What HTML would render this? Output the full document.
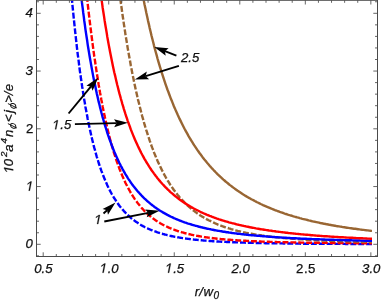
<!DOCTYPE html><html><head><meta charset="utf-8"><style>html,body{margin:0;padding:0;background:#fff;width:382px;height:300px;overflow:hidden}</style></head><body><svg width="382" height="300" viewBox="0 0 382 300" style="position:absolute;left:0;top:0;will-change:transform"><rect width="382" height="300" fill="#fff"/><defs><clipPath id="c"><rect x="36.50" y="0.60" width="341.00" height="255.90"/></clipPath></defs><g clip-path="url(#c)" fill="none" stroke-width="2.4" stroke-linejoin="round"><path d="M64.3 -102.2 L64.7 -95.6 L65.1 -89.1 L65.5 -82.6 L65.9 -76.3 L66.4 -70.0 L66.8 -63.9 L67.3 -57.8 L67.7 -51.8 L68.1 -45.8 L68.6 -40.0 L69.1 -34.3 L69.5 -28.6 L70.0 -23.0 L70.4 -17.5 L70.9 -12.1 L71.4 -6.8 L71.9 -1.6 L72.3 3.6 L72.8 8.7 L73.3 13.6 L73.8 18.6 L74.3 23.4 L74.8 28.1 L75.3 32.8 L75.8 37.3 L76.3 41.8 L76.8 46.3 L77.3 50.6 L77.8 54.8 L78.4 59.0 L78.9 63.1 L79.4 67.2 L79.9 71.1 L80.5 75.0 L81.0 78.8 L81.6 82.5 L82.1 86.2 L82.7 89.8 L83.2 93.3 L83.8 96.7 L84.3 100.1 L84.9 103.4 L85.4 106.7 L86.0 109.8 L86.6 112.9 L87.2 116.0 L87.7 119.0 L88.3 121.9 L88.9 124.8 L89.5 127.6 L90.1 130.3 L90.7 133.0 L91.3 135.6 L91.9 138.2 L92.5 140.7 L93.1 143.2 L93.7 145.6 L94.3 147.9 L95.0 150.2 L95.6 152.5 L96.2 154.7 L96.8 156.8 L97.5 158.9 L98.1 161.0 L98.7 163.0 L99.4 165.0 L100.0 166.9 L100.7 168.8 L101.3 170.6 L102.0 172.4 L102.6 174.1 L103.3 175.8 L104.0 177.5 L104.6 179.1 L105.3 180.7 L106.0 182.3 L106.7 183.8 L107.3 185.3 L108.0 186.7 L108.7 188.1 L109.4 189.5 L110.1 190.9 L110.8 192.2 L111.5 193.5 L112.2 194.7 L112.9 195.9 L113.6 197.1 L114.3 198.3 L115.1 199.4 L115.8 200.5 L116.5 201.6 L117.2 202.7 L118.0 203.7 L118.7 204.7 L119.4 205.7 L120.2 206.7 L120.9 207.6 L121.7 208.5 L122.4 209.4 L123.2 210.2 L123.9 211.1 L124.7 211.9 L125.4 212.7 L126.2 213.5 L127.0 214.3 L127.7 215.0 L128.5 215.7 L129.3 216.4 L130.1 217.1 L130.8 217.8 L131.6 218.5 L132.4 219.1 L133.2 219.7 L134.0 220.3 L134.8 220.9 L135.6 221.5 L136.4 222.1 L137.2 222.6 L138.0 223.1 L138.9 223.7 L139.7 224.2 L140.5 224.7 L141.3 225.2 L142.1 225.6 L143.0 226.1 L143.8 226.5 L144.6 227.0 L145.5 227.4 L146.3 227.8 L147.2 228.2 L148.0 228.6 L148.9 229.0 L149.7 229.4 L150.6 229.7 L151.4 230.1 L152.3 230.4 L153.2 230.8 L154.0 231.1 L154.9 231.4 L155.8 231.7 L156.7 232.0 L157.5 232.3 L158.4 232.6 L159.3 232.9 L160.2 233.2 L161.1 233.5 L162.0 233.7 L162.9 234.0 L163.8 234.2 L164.7 234.5 L165.6 234.7 L166.5 234.9 L167.4 235.2 L168.4 235.4 L169.3 235.6 L170.2 235.8 L171.1 236.0 L172.1 236.2 L173.0 236.4 L173.9 236.6 L174.9 236.8 L175.8 236.9 L176.8 237.1 L177.7 237.3 L178.7 237.4 L179.6 237.6 L180.6 237.8 L181.5 237.9 L182.5 238.1 L183.5 238.2 L184.4 238.4 L185.4 238.5 L186.4 238.6 L187.4 238.8 L188.3 238.9 L189.3 239.0 L190.3 239.1 L191.3 239.3 L192.3 239.4 L193.3 239.5 L194.3 239.6 L195.3 239.7 L196.3 239.8 L197.3 239.9 L198.3 240.0 L199.3 240.1 L200.3 240.2 L201.4 240.3 L202.4 240.4 L203.4 240.5 L204.4 240.6 L205.5 240.6 L206.5 240.7 L207.5 240.8 L208.6 240.9 L209.6 241.0 L210.7 241.0 L211.7 241.1 L212.8 241.2 L213.8 241.3 L214.9 241.3 L215.9 241.4 L217.0 241.5 L218.0 241.5 L219.1 241.6 L220.2 241.6 L221.3 241.7 L222.3 241.8 L223.4 241.8 L224.5 241.9 L225.6 241.9 L226.7 242.0 L227.8 242.0 L228.9 242.1 L230.0 242.1 L231.1 242.2 L232.2 242.2 L233.3 242.3 L234.4 242.3 L235.5 242.3 L236.6 242.4 L237.7 242.4 L238.8 242.5 L240.0 242.5 L241.1 242.5 L242.2 242.6 L243.3 242.6 L244.5 242.6 L245.6 242.7 L246.8 242.7 L247.9 242.7 L249.0 242.8 L250.2 242.8 L251.3 242.8 L252.5 242.9 L253.7 242.9 L254.8 242.9 L256.0 243.0 L257.1 243.0 L258.3 243.0 L259.5 243.0 L260.7 243.1 L261.8 243.1 L263.0 243.1 L264.2 243.1 L265.4 243.2 L266.6 243.2 L267.8 243.2 L269.0 243.2 L270.2 243.2 L271.4 243.3 L272.6 243.3 L273.8 243.3 L275.0 243.3 L276.2 243.3 L277.4 243.4 L278.6 243.4 L279.8 243.4 L281.1 243.4 L282.3 243.4 L283.5 243.5 L284.7 243.5 L286.0 243.5 L287.2 243.5 L288.4 243.5 L289.7 243.5 L290.9 243.5 L292.2 243.6 L293.4 243.6 L294.7 243.6 L295.9 243.6 L297.2 243.6 L298.5 243.6 L299.7 243.6 L301.0 243.7 L302.3 243.7 L303.5 243.7 L304.8 243.7 L306.1 243.7 L307.4 243.7 L308.6 243.7 L309.9 243.7 L311.2 243.7 L312.5 243.8 L313.8 243.8 L315.1 243.8 L316.4 243.8 L317.7 243.8 L319.0 243.8 L320.3 243.8 L321.6 243.8 L322.9 243.8 L324.2 243.8 L325.6 243.8 L326.9 243.9 L328.2 243.9 L329.5 243.9 L330.9 243.9 L332.2 243.9 L333.5 243.9 L334.9 243.9 L336.2 243.9 L337.6 243.9 L338.9 243.9 L340.3 243.9 L341.6 243.9 L343.0 243.9 L344.3 243.9 L345.7 244.0 L347.0 244.0 L348.4 244.0 L349.8 244.0 L351.1 244.0 L352.5 244.0 L353.9 244.0 L355.3 244.0 L356.7 244.0 L358.0 244.0 L359.4 244.0 L360.8 244.0 L362.2 244.0 L363.6 244.0 L365.0 244.0 L366.4 244.0 L367.8 244.0 L369.2 244.0 L370.6 244.0 L372.0 244.0" stroke="#0000ff" stroke-dasharray="5.910 1.975" stroke-dashoffset="3.09"/><path d="M78.4 -96.8 L78.9 -90.2 L79.4 -83.8 L79.9 -77.4 L80.5 -71.1 L81.0 -64.9 L81.6 -58.7 L82.1 -52.6 L82.7 -46.6 L83.2 -40.7 L83.8 -34.8 L84.3 -29.1 L84.9 -23.4 L85.4 -17.8 L86.0 -12.3 L86.6 -6.8 L87.2 -1.4 L87.7 3.8 L88.3 9.0 L88.9 14.1 L89.5 19.2 L90.1 24.1 L90.7 29.0 L91.3 33.8 L91.9 38.5 L92.5 43.1 L93.1 47.6 L93.7 52.1 L94.3 56.5 L95.0 60.8 L95.6 65.0 L96.2 69.1 L96.8 73.2 L97.5 77.2 L98.1 81.1 L98.7 84.9 L99.4 88.7 L100.0 92.4 L100.7 96.0 L101.3 99.5 L102.0 103.0 L102.6 106.3 L103.3 109.7 L104.0 112.9 L104.6 116.1 L105.3 119.2 L106.0 122.2 L106.7 125.2 L107.3 128.1 L108.0 131.0 L108.7 133.8 L109.4 136.5 L110.1 139.2 L110.8 141.8 L111.5 144.3 L112.2 146.8 L112.9 149.2 L113.6 151.6 L114.3 153.9 L115.1 156.2 L115.8 158.4 L116.5 160.5 L117.2 162.6 L118.0 164.7 L118.7 166.7 L119.4 168.7 L120.2 170.6 L120.9 172.4 L121.7 174.2 L122.4 176.0 L123.2 177.8 L123.9 179.4 L124.7 181.1 L125.4 182.7 L126.2 184.3 L127.0 185.8 L127.7 187.3 L128.5 188.7 L129.3 190.1 L130.1 191.5 L130.8 192.9 L131.6 194.2 L132.4 195.4 L133.2 196.7 L134.0 197.9 L134.8 199.1 L135.6 200.2 L136.4 201.3 L137.2 202.4 L138.0 203.5 L138.9 204.5 L139.7 205.5 L140.5 206.5 L141.3 207.5 L142.1 208.4 L143.0 209.3 L143.8 210.2 L144.6 211.1 L145.5 211.9 L146.3 212.7 L147.2 213.5 L148.0 214.3 L148.9 215.0 L149.7 215.8 L150.6 216.5 L151.4 217.2 L152.3 217.8 L153.2 218.5 L154.0 219.1 L154.9 219.8 L155.8 220.4 L156.7 221.0 L157.5 221.5 L158.4 222.1 L159.3 222.6 L160.2 223.2 L161.1 223.7 L162.0 224.2 L162.9 224.7 L163.8 225.2 L164.7 225.6 L165.6 226.1 L166.5 226.5 L167.4 226.9 L168.4 227.4 L169.3 227.8 L170.2 228.2 L171.1 228.5 L172.1 228.9 L173.0 229.3 L173.9 229.6 L174.9 230.0 L175.8 230.3 L176.8 230.7 L177.7 231.0 L178.7 231.3 L179.6 231.6 L180.6 231.9 L181.5 232.2 L182.5 232.4 L183.5 232.7 L184.4 233.0 L185.4 233.2 L186.4 233.5 L187.4 233.7 L188.3 234.0 L189.3 234.2 L190.3 234.4 L191.3 234.7 L192.3 234.9 L193.3 235.1 L194.3 235.3 L195.3 235.5 L196.3 235.7 L197.3 235.9 L198.3 236.0 L199.3 236.2 L200.3 236.4 L201.4 236.6 L202.4 236.7 L203.4 236.9 L204.4 237.1 L205.5 237.2 L206.5 237.4 L207.5 237.5 L208.6 237.6 L209.6 237.8 L210.7 237.9 L211.7 238.0 L212.8 238.2 L213.8 238.3 L214.9 238.4 L215.9 238.5 L217.0 238.7 L218.0 238.8 L219.1 238.9 L220.2 239.0 L221.3 239.1 L222.3 239.2 L223.4 239.3 L224.5 239.4 L225.6 239.5 L226.7 239.6 L227.8 239.7 L228.9 239.8 L230.0 239.8 L231.1 239.9 L232.2 240.0 L233.3 240.1 L234.4 240.2 L235.5 240.2 L236.6 240.3 L237.7 240.4 L238.8 240.5 L240.0 240.5 L241.1 240.6 L242.2 240.7 L243.3 240.7 L244.5 240.8 L245.6 240.8 L246.8 240.9 L247.9 241.0 L249.0 241.0 L250.2 241.1 L251.3 241.1 L252.5 241.2 L253.7 241.2 L254.8 241.3 L256.0 241.3 L257.1 241.4 L258.3 241.4 L259.5 241.5 L260.7 241.5 L261.8 241.6 L263.0 241.6 L264.2 241.7 L265.4 241.7 L266.6 241.7 L267.8 241.8 L269.0 241.8 L270.2 241.9 L271.4 241.9 L272.6 241.9 L273.8 242.0 L275.0 242.0 L276.2 242.0 L277.4 242.1 L278.6 242.1 L279.8 242.1 L281.1 242.2 L282.3 242.2 L283.5 242.2 L284.7 242.2 L286.0 242.3 L287.2 242.3 L288.4 242.3 L289.7 242.4 L290.9 242.4 L292.2 242.4 L293.4 242.4 L294.7 242.5 L295.9 242.5 L297.2 242.5 L298.5 242.5 L299.7 242.5 L301.0 242.6 L302.3 242.6 L303.5 242.6 L304.8 242.6 L306.1 242.6 L307.4 242.7 L308.6 242.7 L309.9 242.7 L311.2 242.7 L312.5 242.7 L313.8 242.8 L315.1 242.8 L316.4 242.8 L317.7 242.8 L319.0 242.8 L320.3 242.8 L321.6 242.9 L322.9 242.9 L324.2 242.9 L325.6 242.9 L326.9 242.9 L328.2 242.9 L329.5 242.9 L330.9 243.0 L332.2 243.0 L333.5 243.0 L334.9 243.0 L336.2 243.0 L337.6 243.0 L338.9 243.0 L340.3 243.0 L341.6 243.0 L343.0 243.1 L344.3 243.1 L345.7 243.1 L347.0 243.1 L348.4 243.1 L349.8 243.1 L351.1 243.1 L352.5 243.1 L353.9 243.1 L355.3 243.1 L356.7 243.2 L358.0 243.2 L359.4 243.2 L360.8 243.2 L362.2 243.2 L363.6 243.2 L365.0 243.2 L366.4 243.2 L367.8 243.2 L369.2 243.2 L370.6 243.2 L372.0 243.2" stroke="#ff0000" stroke-dasharray="5.910 1.975" stroke-dashoffset="1.39"/><path d="M109.4 -98.0 L110.1 -90.8 L110.8 -83.7 L111.5 -76.8 L112.2 -69.9 L112.9 -63.2 L113.6 -56.6 L114.3 -50.1 L115.1 -43.7 L115.8 -37.4 L116.5 -31.3 L117.2 -25.2 L118.0 -19.3 L118.7 -13.5 L119.4 -7.8 L120.2 -2.2 L120.9 3.3 L121.7 8.7 L122.4 14.0 L123.2 19.2 L123.9 24.2 L124.7 29.2 L125.4 34.1 L126.2 38.9 L127.0 43.5 L127.7 48.1 L128.5 52.6 L129.3 57.0 L130.1 61.3 L130.8 65.5 L131.6 69.6 L132.4 73.7 L133.2 77.6 L134.0 81.5 L134.8 85.3 L135.6 89.0 L136.4 92.6 L137.2 96.1 L138.0 99.6 L138.9 103.0 L139.7 106.3 L140.5 109.5 L141.3 112.7 L142.1 115.8 L143.0 118.8 L143.8 121.8 L144.6 124.7 L145.5 127.5 L146.3 130.2 L147.2 132.9 L148.0 135.6 L148.9 138.1 L149.7 140.7 L150.6 143.1 L151.4 145.5 L152.3 147.9 L153.2 150.1 L154.0 152.4 L154.9 154.6 L155.8 156.7 L156.7 158.8 L157.5 160.8 L158.4 162.8 L159.3 164.7 L160.2 166.6 L161.1 168.4 L162.0 170.2 L162.9 172.0 L163.8 173.7 L164.7 175.4 L165.6 177.0 L166.5 178.6 L167.4 180.1 L168.4 181.7 L169.3 183.1 L170.2 184.6 L171.1 186.0 L172.1 187.4 L173.0 188.7 L173.9 190.0 L174.9 191.3 L175.8 192.5 L176.8 193.7 L177.7 194.9 L178.7 196.1 L179.6 197.2 L180.6 198.3 L181.5 199.4 L182.5 200.4 L183.5 201.4 L184.4 202.4 L185.4 203.4 L186.4 204.4 L187.4 205.3 L188.3 206.2 L189.3 207.1 L190.3 207.9 L191.3 208.8 L192.3 209.6 L193.3 210.4 L194.3 211.1 L195.3 211.9 L196.3 212.6 L197.3 213.4 L198.3 214.1 L199.3 214.7 L200.3 215.4 L201.4 216.1 L202.4 216.7 L203.4 217.3 L204.4 217.9 L205.5 218.5 L206.5 219.1 L207.5 219.6 L208.6 220.2 L209.6 220.7 L210.7 221.2 L211.7 221.8 L212.8 222.2 L213.8 222.7 L214.9 223.2 L215.9 223.7 L217.0 224.1 L218.0 224.6 L219.1 225.0 L220.2 225.4 L221.3 225.8 L222.3 226.2 L223.4 226.6 L224.5 227.0 L225.6 227.3 L226.7 227.7 L227.8 228.0 L228.9 228.4 L230.0 228.7 L231.1 229.1 L232.2 229.4 L233.3 229.7 L234.4 230.0 L235.5 230.3 L236.6 230.6 L237.7 230.9 L238.8 231.1 L240.0 231.4 L241.1 231.7 L242.2 231.9 L243.3 232.2 L244.5 232.4 L245.6 232.7 L246.8 232.9 L247.9 233.1 L249.0 233.3 L250.2 233.6 L251.3 233.8 L252.5 234.0 L253.7 234.2 L254.8 234.4 L256.0 234.6 L257.1 234.8 L258.3 234.9 L259.5 235.1 L260.7 235.3 L261.8 235.5 L263.0 235.6 L264.2 235.8 L265.4 236.0 L266.6 236.1 L267.8 236.3 L269.0 236.4 L270.2 236.6 L271.4 236.7 L272.6 236.9 L273.8 237.0 L275.0 237.1 L276.2 237.3 L277.4 237.4 L278.6 237.5 L279.8 237.6 L281.1 237.7 L282.3 237.9 L283.5 238.0 L284.7 238.1 L286.0 238.2 L287.2 238.3 L288.4 238.4 L289.7 238.5 L290.9 238.6 L292.2 238.7 L293.4 238.8 L294.7 238.9 L295.9 239.0 L297.2 239.1 L298.5 239.2 L299.7 239.2 L301.0 239.3 L302.3 239.4 L303.5 239.5 L304.8 239.6 L306.1 239.7 L307.4 239.7 L308.6 239.8 L309.9 239.9 L311.2 239.9 L312.5 240.0 L313.8 240.1 L315.1 240.1 L316.4 240.2 L317.7 240.3 L319.0 240.3 L320.3 240.4 L321.6 240.5 L322.9 240.5 L324.2 240.6 L325.6 240.6 L326.9 240.7 L328.2 240.7 L329.5 240.8 L330.9 240.8 L332.2 240.9 L333.5 240.9 L334.9 241.0 L336.2 241.0 L337.6 241.1 L338.9 241.1 L340.3 241.2 L341.6 241.2 L343.0 241.3 L344.3 241.3 L345.7 241.3 L347.0 241.4 L348.4 241.4 L349.8 241.5 L351.1 241.5 L352.5 241.5 L353.9 241.6 L355.3 241.6 L356.7 241.6 L358.0 241.7 L359.4 241.7 L360.8 241.7 L362.2 241.8 L363.6 241.8 L365.0 241.8 L366.4 241.9 L367.8 241.9 L369.2 241.9 L370.6 242.0 L372.0 242.0" stroke="#996633" stroke-dasharray="5.910 1.975" stroke-dashoffset="5.72"/><path d="M71.9 -100.8 L72.3 -94.8 L72.8 -88.9 L73.3 -83.0 L73.8 -77.2 L74.3 -71.6 L74.8 -66.0 L75.3 -60.5 L75.8 -55.0 L76.3 -49.7 L76.8 -44.4 L77.3 -39.2 L77.8 -34.1 L78.4 -29.1 L78.9 -24.2 L79.4 -19.3 L79.9 -14.5 L80.5 -9.8 L81.0 -5.2 L81.6 -0.7 L82.1 3.8 L82.7 8.2 L83.2 12.5 L83.8 16.8 L84.3 21.0 L84.9 25.1 L85.4 29.1 L86.0 33.1 L86.6 37.0 L87.2 40.8 L87.7 44.6 L88.3 48.3 L88.9 51.9 L89.5 55.5 L90.1 59.0 L90.7 62.4 L91.3 65.8 L91.9 69.1 L92.5 72.4 L93.1 75.6 L93.7 78.7 L94.3 81.8 L95.0 84.8 L95.6 87.8 L96.2 90.7 L96.8 93.6 L97.5 96.4 L98.1 99.2 L98.7 101.9 L99.4 104.5 L100.0 107.1 L100.7 109.7 L101.3 112.2 L102.0 114.7 L102.6 117.1 L103.3 119.5 L104.0 121.8 L104.6 124.1 L105.3 126.3 L106.0 128.5 L106.7 130.7 L107.3 132.8 L108.0 134.8 L108.7 136.9 L109.4 138.9 L110.1 140.8 L110.8 142.7 L111.5 144.6 L112.2 146.5 L112.9 148.3 L113.6 150.0 L114.3 151.8 L115.1 153.5 L115.8 155.2 L116.5 156.8 L117.2 158.4 L118.0 160.0 L118.7 161.5 L119.4 163.0 L120.2 164.5 L120.9 166.0 L121.7 167.4 L122.4 168.8 L123.2 170.2 L123.9 171.5 L124.7 172.8 L125.4 174.1 L126.2 175.4 L127.0 176.7 L127.7 177.9 L128.5 179.1 L129.3 180.2 L130.1 181.4 L130.8 182.5 L131.6 183.6 L132.4 184.7 L133.2 185.8 L134.0 186.8 L134.8 187.8 L135.6 188.8 L136.4 189.8 L137.2 190.8 L138.0 191.7 L138.9 192.6 L139.7 193.6 L140.5 194.4 L141.3 195.3 L142.1 196.2 L143.0 197.0 L143.8 197.8 L144.6 198.6 L145.5 199.4 L146.3 200.2 L147.2 201.0 L148.0 201.7 L148.9 202.4 L149.7 203.1 L150.6 203.9 L151.4 204.5 L152.3 205.2 L153.2 205.9 L154.0 206.5 L154.9 207.2 L155.8 207.8 L156.7 208.4 L157.5 209.0 L158.4 209.6 L159.3 210.2 L160.2 210.7 L161.1 211.3 L162.0 211.8 L162.9 212.4 L163.8 212.9 L164.7 213.4 L165.6 213.9 L166.5 214.4 L167.4 214.9 L168.4 215.4 L169.3 215.9 L170.2 216.3 L171.1 216.8 L172.1 217.2 L173.0 217.6 L173.9 218.1 L174.9 218.5 L175.8 218.9 L176.8 219.3 L177.7 219.7 L178.7 220.1 L179.6 220.5 L180.6 220.8 L181.5 221.2 L182.5 221.6 L183.5 221.9 L184.4 222.3 L185.4 222.6 L186.4 222.9 L187.4 223.3 L188.3 223.6 L189.3 223.9 L190.3 224.2 L191.3 224.5 L192.3 224.8 L193.3 225.1 L194.3 225.4 L195.3 225.7 L196.3 225.9 L197.3 226.2 L198.3 226.5 L199.3 226.8 L200.3 227.0 L201.4 227.3 L202.4 227.5 L203.4 227.8 L204.4 228.0 L205.5 228.2 L206.5 228.5 L207.5 228.7 L208.6 228.9 L209.6 229.1 L210.7 229.3 L211.7 229.6 L212.8 229.8 L213.8 230.0 L214.9 230.2 L215.9 230.4 L217.0 230.6 L218.0 230.8 L219.1 230.9 L220.2 231.1 L221.3 231.3 L222.3 231.5 L223.4 231.7 L224.5 231.8 L225.6 232.0 L226.7 232.2 L227.8 232.3 L228.9 232.5 L230.0 232.6 L231.1 232.8 L232.2 233.0 L233.3 233.1 L234.4 233.3 L235.5 233.4 L236.6 233.5 L237.7 233.7 L238.8 233.8 L240.0 233.9 L241.1 234.1 L242.2 234.2 L243.3 234.3 L244.5 234.5 L245.6 234.6 L246.8 234.7 L247.9 234.8 L249.0 235.0 L250.2 235.1 L251.3 235.2 L252.5 235.3 L253.7 235.4 L254.8 235.5 L256.0 235.6 L257.1 235.7 L258.3 235.8 L259.5 235.9 L260.7 236.0 L261.8 236.1 L263.0 236.2 L264.2 236.3 L265.4 236.4 L266.6 236.5 L267.8 236.6 L269.0 236.7 L270.2 236.8 L271.4 236.9 L272.6 237.0 L273.8 237.0 L275.0 237.1 L276.2 237.2 L277.4 237.3 L278.6 237.4 L279.8 237.4 L281.1 237.5 L282.3 237.6 L283.5 237.7 L284.7 237.7 L286.0 237.8 L287.2 237.9 L288.4 238.0 L289.7 238.0 L290.9 238.1 L292.2 238.2 L293.4 238.2 L294.7 238.3 L295.9 238.3 L297.2 238.4 L298.5 238.5 L299.7 238.5 L301.0 238.6 L302.3 238.7 L303.5 238.7 L304.8 238.8 L306.1 238.8 L307.4 238.9 L308.6 238.9 L309.9 239.0 L311.2 239.0 L312.5 239.1 L313.8 239.1 L315.1 239.2 L316.4 239.3 L317.7 239.3 L319.0 239.3 L320.3 239.4 L321.6 239.4 L322.9 239.5 L324.2 239.5 L325.6 239.6 L326.9 239.6 L328.2 239.7 L329.5 239.7 L330.9 239.8 L332.2 239.8 L333.5 239.8 L334.9 239.9 L336.2 239.9 L337.6 240.0 L338.9 240.0 L340.3 240.0 L341.6 240.1 L343.0 240.1 L344.3 240.2 L345.7 240.2 L347.0 240.2 L348.4 240.3 L349.8 240.3 L351.1 240.3 L352.5 240.4 L353.9 240.4 L355.3 240.4 L356.7 240.5 L358.0 240.5 L359.4 240.5 L360.8 240.6 L362.2 240.6 L363.6 240.6 L365.0 240.7 L366.4 240.7 L367.8 240.7 L369.2 240.7 L370.6 240.8 L372.0 240.8" stroke="#0000ff"/><path d="M90.7 -98.3 L91.3 -91.6 L91.9 -85.1 L92.5 -78.8 L93.1 -72.5 L93.7 -66.4 L94.3 -60.4 L95.0 -54.6 L95.6 -48.8 L96.2 -43.2 L96.8 -37.7 L97.5 -32.3 L98.1 -27.0 L98.7 -21.8 L99.4 -16.7 L100.0 -11.7 L100.7 -6.8 L101.3 -2.1 L102.0 2.6 L102.6 7.2 L103.3 11.7 L104.0 16.1 L104.6 20.4 L105.3 24.7 L106.0 28.8 L106.7 32.9 L107.3 36.9 L108.0 40.7 L108.7 44.6 L109.4 48.3 L110.1 52.0 L110.8 55.6 L111.5 59.1 L112.2 62.5 L112.9 65.9 L113.6 69.2 L114.3 72.5 L115.1 75.6 L115.8 78.7 L116.5 81.8 L117.2 84.8 L118.0 87.7 L118.7 90.6 L119.4 93.4 L120.2 96.1 L120.9 98.8 L121.7 101.5 L122.4 104.1 L123.2 106.6 L123.9 109.1 L124.7 111.6 L125.4 113.9 L126.2 116.3 L127.0 118.6 L127.7 120.8 L128.5 123.0 L129.3 125.2 L130.1 127.3 L130.8 129.4 L131.6 131.4 L132.4 133.4 L133.2 135.4 L134.0 137.3 L134.8 139.2 L135.6 141.0 L136.4 142.8 L137.2 144.6 L138.0 146.3 L138.9 148.1 L139.7 149.7 L140.5 151.4 L141.3 153.0 L142.1 154.5 L143.0 156.1 L143.8 157.6 L144.6 159.1 L145.5 160.5 L146.3 162.0 L147.2 163.4 L148.0 164.7 L148.9 166.1 L149.7 167.4 L150.6 168.7 L151.4 170.0 L152.3 171.2 L153.2 172.4 L154.0 173.6 L154.9 174.8 L155.8 176.0 L156.7 177.1 L157.5 178.2 L158.4 179.3 L159.3 180.4 L160.2 181.4 L161.1 182.5 L162.0 183.5 L162.9 184.5 L163.8 185.4 L164.7 186.4 L165.6 187.3 L166.5 188.2 L167.4 189.1 L168.4 190.0 L169.3 190.9 L170.2 191.8 L171.1 192.6 L172.1 193.4 L173.0 194.2 L173.9 195.0 L174.9 195.8 L175.8 196.6 L176.8 197.3 L177.7 198.0 L178.7 198.8 L179.6 199.5 L180.6 200.2 L181.5 200.9 L182.5 201.5 L183.5 202.2 L184.4 202.8 L185.4 203.5 L186.4 204.1 L187.4 204.7 L188.3 205.3 L189.3 205.9 L190.3 206.5 L191.3 207.1 L192.3 207.6 L193.3 208.2 L194.3 208.7 L195.3 209.3 L196.3 209.8 L197.3 210.3 L198.3 210.8 L199.3 211.3 L200.3 211.8 L201.4 212.3 L202.4 212.7 L203.4 213.2 L204.4 213.7 L205.5 214.1 L206.5 214.6 L207.5 215.0 L208.6 215.4 L209.6 215.8 L210.7 216.2 L211.7 216.6 L212.8 217.0 L213.8 217.4 L214.9 217.8 L215.9 218.2 L217.0 218.6 L218.0 218.9 L219.1 219.3 L220.2 219.6 L221.3 220.0 L222.3 220.3 L223.4 220.7 L224.5 221.0 L225.6 221.3 L226.7 221.6 L227.8 221.9 L228.9 222.3 L230.0 222.6 L231.1 222.9 L232.2 223.2 L233.3 223.4 L234.4 223.7 L235.5 224.0 L236.6 224.3 L237.7 224.6 L238.8 224.8 L240.0 225.1 L241.1 225.3 L242.2 225.6 L243.3 225.8 L244.5 226.1 L245.6 226.3 L246.8 226.6 L247.9 226.8 L249.0 227.0 L250.2 227.3 L251.3 227.5 L252.5 227.7 L253.7 227.9 L254.8 228.1 L256.0 228.4 L257.1 228.6 L258.3 228.8 L259.5 229.0 L260.7 229.2 L261.8 229.4 L263.0 229.5 L264.2 229.7 L265.4 229.9 L266.6 230.1 L267.8 230.3 L269.0 230.5 L270.2 230.6 L271.4 230.8 L272.6 231.0 L273.8 231.1 L275.0 231.3 L276.2 231.5 L277.4 231.6 L278.6 231.8 L279.8 231.9 L281.1 232.1 L282.3 232.2 L283.5 232.4 L284.7 232.5 L286.0 232.7 L287.2 232.8 L288.4 233.0 L289.7 233.1 L290.9 233.2 L292.2 233.4 L293.4 233.5 L294.7 233.6 L295.9 233.8 L297.2 233.9 L298.5 234.0 L299.7 234.1 L301.0 234.3 L302.3 234.4 L303.5 234.5 L304.8 234.6 L306.1 234.7 L307.4 234.8 L308.6 234.9 L309.9 235.0 L311.2 235.2 L312.5 235.3 L313.8 235.4 L315.1 235.5 L316.4 235.6 L317.7 235.7 L319.0 235.8 L320.3 235.9 L321.6 236.0 L322.9 236.1 L324.2 236.2 L325.6 236.2 L326.9 236.3 L328.2 236.4 L329.5 236.5 L330.9 236.6 L332.2 236.7 L333.5 236.8 L334.9 236.9 L336.2 236.9 L337.6 237.0 L338.9 237.1 L340.3 237.2 L341.6 237.3 L343.0 237.3 L344.3 237.4 L345.7 237.5 L347.0 237.6 L348.4 237.6 L349.8 237.7 L351.1 237.8 L352.5 237.8 L353.9 237.9 L355.3 238.0 L356.7 238.1 L358.0 238.1 L359.4 238.2 L360.8 238.3 L362.2 238.3 L363.6 238.4 L365.0 238.4 L366.4 238.5 L367.8 238.6 L369.2 238.6 L370.6 238.7 L372.0 238.7" stroke="#ff0000"/><path d="M127.7 -101.4 L128.5 -95.3 L129.3 -89.4 L130.1 -83.5 L130.8 -77.8 L131.6 -72.2 L132.4 -66.6 L133.2 -61.2 L134.0 -55.9 L134.8 -50.7 L135.6 -45.6 L136.4 -40.6 L137.2 -35.6 L138.0 -30.8 L138.9 -26.1 L139.7 -21.4 L140.5 -16.8 L141.3 -12.4 L142.1 -8.0 L143.0 -3.7 L143.8 0.6 L144.6 4.7 L145.5 8.8 L146.3 12.8 L147.2 16.7 L148.0 20.6 L148.9 24.4 L149.7 28.1 L150.6 31.7 L151.4 35.3 L152.3 38.8 L153.2 42.2 L154.0 45.6 L154.9 48.9 L155.8 52.2 L156.7 55.4 L157.5 58.5 L158.4 61.6 L159.3 64.6 L160.2 67.6 L161.1 70.5 L162.0 73.4 L162.9 76.2 L163.8 78.9 L164.7 81.6 L165.6 84.3 L166.5 86.9 L167.4 89.5 L168.4 92.0 L169.3 94.5 L170.2 96.9 L171.1 99.3 L172.1 101.6 L173.0 103.9 L173.9 106.2 L174.9 108.4 L175.8 110.6 L176.8 112.7 L177.7 114.8 L178.7 116.9 L179.6 118.9 L180.6 120.9 L181.5 122.8 L182.5 124.8 L183.5 126.7 L184.4 128.5 L185.4 130.3 L186.4 132.1 L187.4 133.9 L188.3 135.6 L189.3 137.3 L190.3 139.0 L191.3 140.6 L192.3 142.2 L193.3 143.8 L194.3 145.4 L195.3 146.9 L196.3 148.4 L197.3 149.9 L198.3 151.3 L199.3 152.7 L200.3 154.1 L201.4 155.5 L202.4 156.9 L203.4 158.2 L204.4 159.5 L205.5 160.8 L206.5 162.1 L207.5 163.3 L208.6 164.5 L209.6 165.7 L210.7 166.9 L211.7 168.1 L212.8 169.2 L213.8 170.3 L214.9 171.4 L215.9 172.5 L217.0 173.6 L218.0 174.6 L219.1 175.6 L220.2 176.7 L221.3 177.7 L222.3 178.6 L223.4 179.6 L224.5 180.5 L225.6 181.5 L226.7 182.4 L227.8 183.3 L228.9 184.2 L230.0 185.1 L231.1 185.9 L232.2 186.8 L233.3 187.6 L234.4 188.4 L235.5 189.2 L236.6 190.0 L237.7 190.8 L238.8 191.5 L240.0 192.3 L241.1 193.0 L242.2 193.8 L243.3 194.5 L244.5 195.2 L245.6 195.9 L246.8 196.6 L247.9 197.2 L249.0 197.9 L250.2 198.5 L251.3 199.2 L252.5 199.8 L253.7 200.4 L254.8 201.0 L256.0 201.6 L257.1 202.2 L258.3 202.8 L259.5 203.4 L260.7 204.0 L261.8 204.5 L263.0 205.1 L264.2 205.6 L265.4 206.1 L266.6 206.6 L267.8 207.2 L269.0 207.7 L270.2 208.2 L271.4 208.7 L272.6 209.1 L273.8 209.6 L275.0 210.1 L276.2 210.5 L277.4 211.0 L278.6 211.4 L279.8 211.9 L281.1 212.3 L282.3 212.7 L283.5 213.2 L284.7 213.6 L286.0 214.0 L287.2 214.4 L288.4 214.8 L289.7 215.2 L290.9 215.5 L292.2 215.9 L293.4 216.3 L294.7 216.7 L295.9 217.0 L297.2 217.4 L298.5 217.7 L299.7 218.1 L301.0 218.4 L302.3 218.8 L303.5 219.1 L304.8 219.4 L306.1 219.7 L307.4 220.0 L308.6 220.4 L309.9 220.7 L311.2 221.0 L312.5 221.3 L313.8 221.6 L315.1 221.8 L316.4 222.1 L317.7 222.4 L319.0 222.7 L320.3 223.0 L321.6 223.2 L322.9 223.5 L324.2 223.8 L325.6 224.0 L326.9 224.3 L328.2 224.5 L329.5 224.8 L330.9 225.0 L332.2 225.3 L333.5 225.5 L334.9 225.7 L336.2 226.0 L337.6 226.2 L338.9 226.4 L340.3 226.6 L341.6 226.8 L343.0 227.1 L344.3 227.3 L345.7 227.5 L347.0 227.7 L348.4 227.9 L349.8 228.1 L351.1 228.3 L352.5 228.5 L353.9 228.7 L355.3 228.8 L356.7 229.0 L358.0 229.2 L359.4 229.4 L360.8 229.6 L362.2 229.8 L363.6 229.9 L365.0 230.1 L366.4 230.3 L367.8 230.4 L369.2 230.6 L370.6 230.8 L372.0 230.9" stroke="#996633"/></g><rect x="36.50" y="0.30" width="341.00" height="256.20" fill="none" stroke="#4a4a4a" stroke-width="1"/><path d="M43.20 256.50V252.30M43.20 0.30V4.50M56.31 256.50V254.00M56.31 0.30V2.80M69.41 256.50V254.00M69.41 0.30V2.80M82.52 256.50V254.00M82.52 0.30V2.80M95.62 256.50V254.00M95.62 0.30V2.80M108.73 256.50V252.30M108.73 0.30V4.50M121.84 256.50V254.00M121.84 0.30V2.80M134.94 256.50V254.00M134.94 0.30V2.80M148.05 256.50V254.00M148.05 0.30V2.80M161.15 256.50V254.00M161.15 0.30V2.80M174.26 256.50V252.30M174.26 0.30V4.50M187.37 256.50V254.00M187.37 0.30V2.80M200.47 256.50V254.00M200.47 0.30V2.80M213.58 256.50V254.00M213.58 0.30V2.80M226.68 256.50V254.00M226.68 0.30V2.80M239.79 256.50V252.30M239.79 0.30V4.50M252.90 256.50V254.00M252.90 0.30V2.80M266.00 256.50V254.00M266.00 0.30V2.80M279.11 256.50V254.00M279.11 0.30V2.80M292.21 256.50V254.00M292.21 0.30V2.80M305.32 256.50V252.30M305.32 0.30V4.50M318.43 256.50V254.00M318.43 0.30V2.80M331.53 256.50V254.00M331.53 0.30V2.80M344.64 256.50V254.00M344.64 0.30V2.80M357.74 256.50V254.00M357.74 0.30V2.80M370.85 256.50V252.30M370.85 0.30V4.50M36.50 255.85H39.00M377.50 255.85H375.00M36.50 244.30H40.70M377.50 244.30H373.30M36.50 232.75H39.00M377.50 232.75H375.00M36.50 221.20H39.00M377.50 221.20H375.00M36.50 209.65H39.00M377.50 209.65H375.00M36.50 198.10H39.00M377.50 198.10H375.00M36.50 186.55H40.70M377.50 186.55H373.30M36.50 175.00H39.00M377.50 175.00H375.00M36.50 163.45H39.00M377.50 163.45H375.00M36.50 151.90H39.00M377.50 151.90H375.00M36.50 140.35H39.00M377.50 140.35H375.00M36.50 128.80H40.70M377.50 128.80H373.30M36.50 117.25H39.00M377.50 117.25H375.00M36.50 105.70H39.00M377.50 105.70H375.00M36.50 94.15H39.00M377.50 94.15H375.00M36.50 82.60H39.00M377.50 82.60H375.00M36.50 71.05H40.70M377.50 71.05H373.30M36.50 59.50H39.00M377.50 59.50H375.00M36.50 47.95H39.00M377.50 47.95H375.00M36.50 36.40H39.00M377.50 36.40H375.00M36.50 24.85H39.00M377.50 24.85H375.00M36.50 13.30H40.70M377.50 13.30H373.30M36.50 1.75H39.00M377.50 1.75H375.00" stroke="#4a4a4a" stroke-width="0.85" fill="none"/><text x="34.13" y="272.70" font-family="Liberation Sans, sans-serif" font-style="italic" font-size="13.2" fill="#111" stroke="#111" stroke-width="0.25">0</text><text x="41.47" y="272.70" font-family="Liberation Sans, sans-serif" font-style="italic" font-size="13.2" fill="#111" stroke="#111" stroke-width="0.25">.</text><text x="45.13" y="272.70" font-family="Liberation Sans, sans-serif" font-style="italic" font-size="13.2" fill="#111" stroke="#111" stroke-width="0.25">5</text><path transform="translate(99.83 272.70) scale(0.00645 -0.00645)" d="M412 0L650 1223L230 940L262 1110L701 1409H867L593 0Z" fill="#111" stroke="#111" stroke-width="0.25" vector-effect="non-scaling-stroke"/><text x="107.70" y="272.70" font-family="Liberation Sans, sans-serif" font-style="italic" font-size="13.2" fill="#111" stroke="#111" stroke-width="0.25">.</text><text x="111.36" y="272.70" font-family="Liberation Sans, sans-serif" font-style="italic" font-size="13.2" fill="#111" stroke="#111" stroke-width="0.25">0</text><path transform="translate(165.26 272.70) scale(0.00645 -0.00645)" d="M412 0L650 1223L230 940L262 1110L701 1409H867L593 0Z" fill="#111" stroke="#111" stroke-width="0.25" vector-effect="non-scaling-stroke"/><text x="173.13" y="272.70" font-family="Liberation Sans, sans-serif" font-style="italic" font-size="13.2" fill="#111" stroke="#111" stroke-width="0.25">.</text><text x="176.79" y="272.70" font-family="Liberation Sans, sans-serif" font-style="italic" font-size="13.2" fill="#111" stroke="#111" stroke-width="0.25">5</text><text x="231.62" y="272.70" font-family="Liberation Sans, sans-serif" font-style="italic" font-size="13.2" fill="#111" stroke="#111" stroke-width="0.25">2</text><text x="238.96" y="272.70" font-family="Liberation Sans, sans-serif" font-style="italic" font-size="13.2" fill="#111" stroke="#111" stroke-width="0.25">.</text><text x="242.62" y="272.70" font-family="Liberation Sans, sans-serif" font-style="italic" font-size="13.2" fill="#111" stroke="#111" stroke-width="0.25">0</text><text x="296.05" y="272.50" font-family="Liberation Sans, sans-serif" font-style="normal" font-size="13.2" fill="#111" stroke="#111" stroke-width="0.25">2</text><text x="303.89" y="272.50" font-family="Liberation Sans, sans-serif" font-style="normal" font-size="13.2" fill="#111" stroke="#111" stroke-width="0.25">.</text><text x="308.05" y="272.50" font-family="Liberation Sans, sans-serif" font-style="normal" font-size="13.2" fill="#111" stroke="#111" stroke-width="0.25">5</text><text x="362.08" y="272.70" font-family="Liberation Sans, sans-serif" font-style="italic" font-size="13.2" fill="#111" stroke="#111" stroke-width="0.25">3</text><text x="369.42" y="272.70" font-family="Liberation Sans, sans-serif" font-style="italic" font-size="13.2" fill="#111" stroke="#111" stroke-width="0.25">.</text><text x="373.08" y="272.70" font-family="Liberation Sans, sans-serif" font-style="italic" font-size="13.2" fill="#111" stroke="#111" stroke-width="0.25">0</text><text x="25.56" y="248.40" font-family="Liberation Sans, sans-serif" font-style="italic" font-size="13.2" fill="#111" stroke="#111" stroke-width="0.25">0</text><path transform="translate(26.03 190.65) scale(0.00645 -0.00645)" d="M412 0L650 1223L230 940L262 1110L701 1409H867L593 0Z" fill="#111" stroke="#111" stroke-width="0.25" vector-effect="non-scaling-stroke"/><text x="26.06" y="132.90" font-family="Liberation Sans, sans-serif" font-style="normal" font-size="13.2" fill="#111" stroke="#111" stroke-width="0.25">2</text><text x="25.56" y="75.15" font-family="Liberation Sans, sans-serif" font-style="italic" font-size="13.2" fill="#111" stroke="#111" stroke-width="0.25">3</text><text x="25.56" y="17.40" font-family="Liberation Sans, sans-serif" font-style="italic" font-size="13.2" fill="#111" stroke="#111" stroke-width="0.25">4</text><text x="194.8" y="296.3" font-family="Liberation Sans, sans-serif" font-style="italic" font-size="13.2" fill="#111" stroke="#111" stroke-width="0.25">r/</text><text x="203.45" y="296.3" font-family="Liberation Sans, sans-serif" font-style="italic" font-size="13.2" fill="#111" stroke="#111" stroke-width="0.25">w</text><text x="213.5" y="298.5" font-family="Liberation Sans, sans-serif" font-style="italic" font-size="10" fill="#111" stroke="#111" stroke-width="0.25">0</text><g transform="translate(13.2 171.5) rotate(-90)" font-family="Liberation Sans, sans-serif" font-style="italic" fill="#111" stroke="#111" stroke-width="0.25"><text x="5.34" y="0.00" font-size="13.2">0</text><text x="14.50" y="-6.30" font-size="9.8">2</text><text x="19.70" y="0.00" font-size="13.2">a</text><text x="27.95" y="-6.30" font-size="9.8">4</text><text x="34.58" y="0.00" font-size="13.2">n</text><text x="49.56" y="0.00" font-size="13.2">&lt;</text><text x="58.40" y="0.00" font-size="13.2">j</text><text x="68.85" y="0.00" font-size="13.2">&gt;</text><text x="76.27" y="0.00" font-size="13.2">/</text><text x="80.35" y="0.00" font-size="13.2">e</text><path transform="translate(-1.63 0.00) scale(0.00645 -0.00645)" d="M412 0L650 1223L230 940L262 1110L701 1409H867L593 0Z" fill="#111" stroke="#111" stroke-width="0.25" vector-effect="non-scaling-stroke"/><g transform="translate(45.60 0.00)" fill="none" stroke="#111" stroke-width="0.95"><ellipse rx="2.3" ry="2.65" transform="skewX(-14)"/><path d="M-2.1 3.7L2.3 -5.3"/></g><g transform="translate(65.65 0.00)" fill="none" stroke="#111" stroke-width="0.95"><ellipse rx="2.3" ry="2.65" transform="skewX(-14)"/><path d="M-2.1 3.7L2.3 -5.3"/></g></g><path d="M176.40 55.60L164.92 51.13" stroke="#000" stroke-width="1.9" fill="none"/><path d="M154.30 47.00L168.61 48.28L164.92 51.13L165.71 55.73Z" fill="#000"/><path d="M178.90 65.90L145.69 76.14" stroke="#000" stroke-width="1.9" fill="none"/><path d="M134.80 79.50L146.81 71.61L145.69 76.14L149.17 79.26Z" fill="#000"/><path d="M68.60 113.50L91.03 86.38" stroke="#000" stroke-width="1.9" fill="none"/><path d="M98.30 77.60L92.59 90.78L91.03 86.38L86.42 85.68Z" fill="#000"/><path d="M74.90 124.10L116.50 123.08" stroke="#000" stroke-width="1.9" fill="none"/><path d="M127.90 122.80L114.20 127.14L116.50 123.08L114.01 119.14Z" fill="#000"/><path d="M103.50 213.50L107.06 210.26" stroke="#000" stroke-width="1.9" fill="none"/><path d="M115.50 202.60L107.97 214.84L107.06 210.26L102.60 208.92Z" fill="#000"/><path d="M104.30 221.50L148.31 212.89" stroke="#000" stroke-width="1.9" fill="none"/><path d="M159.50 210.70L146.72 217.28L148.31 212.89L145.19 209.42Z" fill="#000"/><text x="181.00" y="61.50" font-family="Liberation Sans, sans-serif" font-style="italic" font-size="13.2" fill="#111" stroke="#111" stroke-width="0.25">2</text><text x="188.34" y="61.50" font-family="Liberation Sans, sans-serif" font-style="italic" font-size="13.2" fill="#111" stroke="#111" stroke-width="0.25">.</text><text x="192.01" y="61.50" font-family="Liberation Sans, sans-serif" font-style="italic" font-size="13.2" fill="#111" stroke="#111" stroke-width="0.25">5</text><path transform="translate(52.37 129.30) scale(0.00645 -0.00645)" d="M412 0L650 1223L230 940L262 1110L701 1409H867L593 0Z" fill="#111" stroke="#111" stroke-width="0.25" vector-effect="non-scaling-stroke"/><text x="60.24" y="129.30" font-family="Liberation Sans, sans-serif" font-style="italic" font-size="13.2" fill="#111" stroke="#111" stroke-width="0.25">.</text><text x="63.91" y="129.30" font-family="Liberation Sans, sans-serif" font-style="italic" font-size="13.2" fill="#111" stroke="#111" stroke-width="0.25">5</text><path transform="translate(94.37 224.00) scale(0.00645 -0.00645)" d="M412 0L650 1223L230 940L262 1110L701 1409H867L593 0Z" fill="#111" stroke="#111" stroke-width="0.25" vector-effect="non-scaling-stroke"/></svg></body></html>
